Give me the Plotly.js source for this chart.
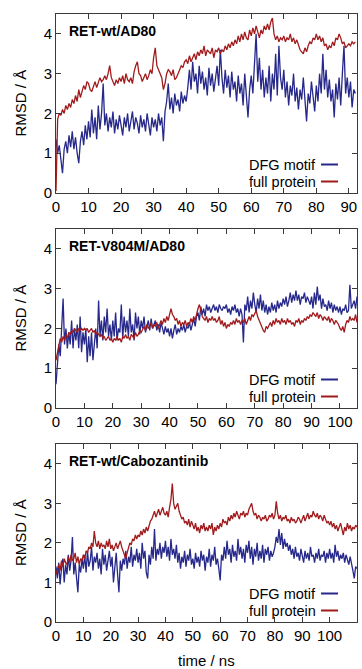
<!DOCTYPE html>
<html>
<head>
<meta charset="utf-8">
<script src="https://cdn.plot.ly/plotly-3.0.1.min.js"></script>
<style>
html,body{margin:0;padding:0;background:#fff;}
#chart{width:362px;height:669px;}
</style>
</head>
<body>
<div id="chart"></div>
<script>
// ---- data (RMSD in Å, sampled every 0.5 ns) ----
const TIME_STEP = 0.5;
const panelTitles = ["RET-wt/AD80", "RET-V804M/AD80", "RET-wt/Cabozantinib"];
const seriesNames = ["DFG motif", "full protein"];
const xTickStep = 10;
const yTicks = [0, 1, 2, 3, 4];

const wtAD80_DFG = [
1.35,1.0,1.2,0.9,0.5,1.1,1.3,1.0,1.45,1.15,
1.55,1.1,1.4,1.0,0.75,1.3,1.55,1.2,1.7,1.35,
1.8,1.4,2.1,1.5,1.9,1.35,2.2,1.6,2.0,2.75,
1.7,2.0,1.55,1.9,1.65,2.05,1.5,1.85,1.6,1.95,
1.7,1.45,1.9,1.65,2.0,1.55,1.8,2.05,1.6,1.9,
1.75,1.5,1.95,1.65,1.85,1.55,2.0,1.7,1.45,1.9,
1.65,1.85,1.55,2.0,1.7,1.9,1.3,2.05,2.3,2.75,
2.1,2.4,2.0,2.5,2.2,2.35,2.05,2.55,2.25,2.45,
2.3,2.65,3.1,2.6,3.3,2.8,3.0,2.5,3.2,2.75,
3.05,2.6,2.9,2.45,3.15,2.7,3.0,2.55,2.85,3.2,
2.7,3.6,2.9,2.5,3.1,2.65,2.95,2.4,3.05,2.6,
2.8,2.3,2.95,2.5,2.75,2.2,3.0,2.4,1.9,2.6,
2.95,2.5,3.3,4.0,2.8,3.4,2.6,3.1,2.4,2.9,
2.5,3.2,2.3,3.0,2.6,3.5,2.45,3.7,2.9,2.6,
3.1,2.4,2.8,2.2,2.7,2.45,3.0,2.3,2.65,2.1,
2.6,2.35,2.9,2.2,1.8,2.5,2.25,2.8,2.4,2.05,
2.7,2.3,3.0,2.5,3.5,2.6,3.1,2.4,2.85,2.3,
2.6,1.9,2.75,2.35,2.9,2.2,3.0,3.7,2.5,2.9,
2.4,2.8,2.15,2.6,2.5
];
const wtAD80_full = [
0.05,1.85,2.0,1.95,2.1,2.0,2.2,2.1,2.25,2.15,
2.35,2.25,2.45,2.3,2.6,2.4,2.55,2.7,2.6,2.8,
2.75,2.6,2.55,2.7,2.8,2.65,2.75,2.9,2.8,2.85,
2.95,2.85,3.0,3.2,2.9,2.8,2.7,2.85,2.75,2.9,
2.8,2.95,2.75,3.0,2.85,2.8,2.9,2.75,3.05,3.2,
3.3,3.0,2.95,2.8,2.9,3.0,2.85,2.95,3.1,3.0,
3.4,3.65,3.2,3.1,3.0,2.9,2.6,2.75,3.0,3.1,
3.05,2.95,3.1,2.85,2.9,3.0,3.1,3.2,3.15,3.3,
3.35,3.25,3.45,3.3,3.4,3.5,3.35,3.55,3.45,3.6,
3.5,3.7,3.45,3.6,3.55,3.5,3.65,3.4,3.6,3.55,
3.65,3.5,3.6,3.55,3.7,3.6,3.75,3.65,3.8,3.7,
3.85,3.75,3.95,3.8,4.0,3.85,4.05,3.9,3.85,4.1,
3.95,4.15,4.0,4.2,4.05,3.9,4.1,4.0,4.2,4.1,
4.25,4.1,4.3,4.4,4.0,3.85,3.95,3.8,3.9,3.85,
3.95,3.8,3.9,3.85,4.0,3.8,3.9,3.75,3.85,3.7,
3.6,3.55,3.5,3.65,3.55,3.7,3.8,3.75,3.9,3.85,
4.0,3.85,3.95,3.8,3.9,3.7,3.75,3.6,3.7,3.65,
3.8,3.7,3.9,3.85,4.0,3.9,3.75,3.8,3.65,3.7,
3.75,3.7,3.8,3.75,3.8
];
const v804m_DFG = [
0.6,1.2,1.6,1.3,2.1,2.75,1.6,2.0,1.5,1.9,
1.6,2.2,1.5,2.0,1.7,2.1,1.5,2.3,1.4,1.9,
1.6,2.0,1.15,1.8,1.3,1.9,1.2,1.7,2.0,1.5,
2.7,1.8,2.2,1.7,2.3,1.9,2.5,1.8,2.1,1.7,
2.2,1.8,2.4,1.7,2.0,1.9,2.6,1.75,2.3,1.9,
2.2,1.8,2.5,1.9,2.1,1.7,2.4,2.0,2.3,1.85,
2.2,2.0,2.3,1.9,2.1,2.2,1.95,2.25,2.0,2.1,
2.2,1.95,2.1,1.9,2.15,2.0,1.85,2.05,1.9,2.0,
1.8,2.0,1.75,1.95,2.1,1.85,2.0,1.9,2.05,1.95,
2.1,1.9,2.05,2.0,2.15,1.95,2.1,2.25,2.05,2.3,
2.4,2.2,2.55,2.35,2.5,2.3,2.6,2.45,2.55,2.4,
2.5,2.6,2.45,2.55,2.4,2.6,2.5,2.45,2.55,2.5,
2.6,2.4,2.5,2.35,2.55,2.45,2.6,2.4,2.5,2.3,
2.5,2.35,1.65,2.6,2.45,2.8,2.4,2.7,2.5,2.9,
2.6,2.4,2.75,2.5,2.85,2.45,2.7,2.4,2.6,2.35,
2.55,2.4,2.65,2.45,2.6,2.4,2.7,2.5,2.65,2.55,
2.75,2.6,2.8,2.55,2.7,2.9,2.65,2.85,2.7,2.95,
2.7,2.85,2.6,2.8,2.75,2.9,2.65,2.8,2.7,2.6,
2.8,2.5,2.9,2.6,3.05,2.7,2.85,2.5,2.75,2.55,
2.6,2.45,2.7,2.5,2.65,2.4,2.6,2.45,2.55,2.4,
2.55,2.35,2.5,2.45,2.6,2.4,2.45,3.1,2.5,2.6,
2.7,2.5,2.8,2.6,2.75,2.65,2.8
];
const v804m_full = [
1.2,1.4,1.6,1.75,1.65,1.8,1.7,1.85,1.75,1.9,
1.85,1.95,1.9,2.0,1.95,1.9,2.0,1.95,2.0,1.95,
2.0,1.95,2.0,1.9,1.95,2.0,1.9,1.95,1.85,1.9,
1.85,1.8,1.85,1.75,1.8,1.7,1.75,1.8,1.7,1.75,
1.65,1.75,1.7,1.8,1.7,1.75,1.65,1.8,1.75,1.85,
1.75,1.8,1.7,1.85,1.8,1.75,1.9,1.8,1.85,1.95,
1.9,2.0,2.05,1.95,2.1,2.0,2.05,2.15,2.0,2.1,
2.05,2.15,2.0,2.1,2.2,2.1,2.25,2.15,2.3,2.2,
2.4,2.5,2.35,2.3,2.2,2.25,2.1,2.2,2.05,2.15,
2.1,2.2,2.05,2.15,2.1,2.25,2.15,2.3,2.2,2.4,
2.5,2.6,2.4,2.3,2.25,2.2,2.3,2.15,2.25,2.2,
2.3,2.2,2.25,2.15,2.2,2.3,2.1,2.2,2.05,2.15,
2.0,2.1,2.05,2.15,2.1,2.2,2.1,2.25,2.15,2.2,
2.1,2.2,2.15,2.25,2.1,2.2,2.3,2.2,2.35,2.3,
2.4,2.45,2.3,2.2,2.1,2.0,1.95,1.9,2.05,2.0,
2.1,2.15,2.05,2.2,2.1,2.25,2.15,2.2,2.1,2.25,
2.15,2.2,2.1,2.25,2.15,2.2,2.1,2.15,2.05,2.2,
2.15,2.25,2.1,2.2,2.15,2.25,2.2,2.3,2.25,2.35,
2.3,2.4,2.35,2.3,2.4,2.25,2.35,2.3,2.2,2.3,
2.25,2.2,2.3,2.15,2.25,2.2,2.1,2.2,2.15,2.1,
2.0,1.95,2.05,1.9,2.1,2.2,2.15,2.3,2.2,2.25,
2.2,2.35,2.15,2.3,2.2,2.25,2.2
];
const cabo_DFG = [
1.4,1.1,1.5,0.95,1.35,1.6,1.0,1.45,1.2,1.7,
1.3,1.55,2.15,1.2,1.5,1.0,0.75,1.45,1.25,1.6,
1.35,1.7,1.25,1.8,1.4,1.55,1.9,1.3,1.65,1.5,
1.75,1.35,1.6,1.2,1.85,1.45,1.7,1.3,1.55,1.8,
1.4,1.65,1.0,1.5,1.75,1.2,0.75,1.55,1.3,1.6,
1.45,1.8,1.35,1.65,1.5,1.9,1.4,1.7,1.55,1.85,
1.5,1.75,1.35,2.0,1.6,1.8,1.25,1.1,1.7,1.45,
1.9,1.6,2.35,1.55,1.85,1.7,2.0,1.6,1.9,1.75,
2.05,1.65,1.9,1.55,2.1,1.7,1.85,1.6,1.95,1.5,
1.75,1.35,1.65,1.5,1.8,1.4,1.7,1.55,1.85,1.45,
1.6,1.35,1.75,1.5,1.65,1.4,1.8,1.55,1.7,1.3,
1.65,1.5,1.85,1.4,1.7,1.55,1.9,1.45,1.6,1.35,
1.05,1.7,1.55,1.9,1.6,2.05,1.7,1.85,1.5,1.95,
1.65,1.8,1.55,2.1,1.7,1.9,1.6,1.85,1.5,1.95,
1.75,2.05,1.6,1.9,1.45,1.85,1.65,2.0,1.55,1.8,
1.6,1.95,1.5,1.85,1.7,1.9,1.55,1.8,1.65,1.75,
1.9,2.15,2.0,2.35,1.95,2.25,1.85,2.1,1.9,2.0,
1.8,1.95,1.7,1.85,1.6,1.9,1.65,1.75,1.55,1.85,
1.7,1.5,1.8,1.6,1.75,1.55,1.9,1.65,1.7,1.5,
1.75,1.6,1.85,1.55,1.7,1.65,1.8,1.5,1.75,1.6,
1.85,1.6,1.75,1.5,1.95,1.65,1.8,1.55,1.7,1.6,
1.75,1.5,1.7,1.6,1.45,1.65,1.5,1.3,1.1,1.4,
1.35
];
const cabo_full = [
1.2,1.35,1.45,1.3,1.55,1.4,1.6,1.5,1.45,1.65,
1.5,1.7,1.55,1.6,1.75,1.5,1.65,1.45,1.6,1.55,
1.7,1.6,1.8,1.75,1.9,1.85,2.0,1.9,2.3,2.0,
1.9,2.05,1.85,2.0,1.9,1.95,1.85,2.05,1.9,2.1,
1.85,1.95,1.8,1.9,2.0,1.85,1.95,2.05,1.9,1.8,
1.7,1.6,1.75,1.85,2.0,1.95,2.1,2.05,2.2,2.1,
2.2,2.15,2.3,2.2,2.35,2.25,2.4,2.3,2.45,2.55,
2.6,2.7,2.8,2.65,2.75,2.85,2.7,2.8,2.9,2.75,
2.7,2.8,2.65,2.9,3.1,3.5,3.0,2.85,2.95,3.0,
2.8,2.7,2.6,2.65,2.5,2.55,2.45,2.6,2.4,2.55,
2.45,2.35,2.5,2.3,2.4,2.25,2.45,2.35,2.5,2.3,
2.4,2.3,2.45,2.35,2.5,2.2,2.4,2.3,2.45,2.35,
2.5,2.4,2.6,2.5,2.55,2.45,2.65,2.55,2.7,2.6,
2.75,2.65,2.8,2.7,2.6,2.75,2.7,2.8,2.65,2.75,
2.7,2.85,2.95,3.0,2.8,2.7,2.75,2.6,2.7,2.65,
2.55,2.65,2.6,2.7,2.55,2.6,2.7,2.65,2.75,2.6,
2.7,3.05,2.75,2.6,2.7,2.55,2.65,2.6,2.7,2.55,
2.6,2.5,2.65,2.55,2.6,2.5,2.55,2.65,2.6,2.5,
2.6,2.7,2.55,2.65,2.75,2.6,2.7,2.65,2.8,2.7,
2.65,2.75,2.6,2.7,2.65,2.55,2.7,2.6,2.5,2.55,
2.45,2.55,2.4,2.5,2.35,2.45,2.3,2.4,2.5,2.35,
2.2,2.4,2.3,2.5,2.35,2.45,2.3,2.4,2.35,2.45,
2.4
];
const panelSeries = [
  [wtAD80_DFG, wtAD80_full],
  [v804m_DFG, v804m_full],
  [cabo_DFG, cabo_full]
];
const xRanges = [[0, 92.5], [0, 106], [0, 110]];

// ---- styling / layout ----
const W = 362, H = 669, ML = 56, MR = 5;
const PW = W - ML - MR;
const panelPix = [[14, 193], [229, 408], [444, 622]]; // top,bottom in px
const colors = ["#26288a", "#a11b1d"];
const FONT = "Liberation Sans, Arial, Helvetica, sans-serif";
const px2x = X => (X - ML) / PW;
const px2y = Y => 1 - Y / H;

const traces = [];
const annotations = [];
const shapes = [];
const layout = {
  width: W, height: H,
  margin: {l: ML, r: MR, t: 0, b: 0},
  paper_bgcolor: "#fff", plot_bgcolor: "#fff",
  showlegend: false,
  font: {family: FONT, size: 15, color: "#000"}
};

panelSeries.forEach((pair, p) => {
  const sfx = p === 0 ? "" : String(p + 1);
  pair.forEach((vals, s) => {
    traces.push({
      type: "scatter", mode: "lines",
      name: seriesNames[s],
      x: vals.map((_, i) => i * TIME_STEP),
      y: vals,
      xaxis: "x" + sfx, yaxis: "y" + sfx,
      line: {color: colors[s], width: 1.3},
      hoverinfo: "skip"
    });
  });
  const [top, bot] = panelPix[p];
  const axCommon = {
    showline: true, linecolor: "#3a3a3a", linewidth: 1,
    mirror: "ticks", ticks: "inside", ticklen: 5, tickwidth: 1, tickcolor: "#3a3a3a",
    showgrid: false, zeroline: false, fixedrange: true,
    tickfont: {family: FONT, size: 15, color: "#000"}
  };
  layout["xaxis" + sfx] = Object.assign({}, axCommon, {
    domain: [0, 1], anchor: "y" + sfx, range: xRanges[p],
    tickmode: "linear", tick0: 0, dtick: xTickStep
  });
  layout["yaxis" + sfx] = Object.assign({}, axCommon, {
    domain: [px2y(bot), px2y(top)], anchor: "x" + sfx, range: [0, 4.5],
    tickmode: "array", tickvals: yTicks, ticktext: yTicks.map(String)
  });
  // panel title
  annotations.push({
    xref: "paper", yref: "paper", x: px2x(67), y: px2y(top + 17),
    xanchor: "left", yanchor: "middle", showarrow: false,
    text: "<b>" + panelTitles[p] + "</b>",
    font: {family: FONT, size: 14, color: "#000"}
  });
  // y-axis title
  annotations.push({
    xref: "paper", yref: "paper", x: px2x(20), y: px2y((top + bot) / 2),
    xanchor: "center", yanchor: "middle", showarrow: false, textangle: -90,
    text: "RMSD / Å", font: {family: FONT, size: 15, color: "#000"}
  });
  // legend (text left of line sample)
  const legY = [bot - 28.5, bot - 11.5];
  seriesNames.forEach((nm, s) => {
    annotations.push({
      xref: "paper", yref: "paper", x: px2x(318), y: px2y(legY[s]),
      xanchor: "right", yanchor: "middle", showarrow: false,
      text: nm, font: {family: FONT, size: 14.5, color: "#000"}
    });
    shapes.push({
      type: "line", xref: "paper", yref: "paper",
      x0: px2x(321), x1: px2x(338), y0: px2y(legY[s]), y1: px2y(legY[s]),
      line: {color: colors[s], width: 2}
    });
  });
});

annotations.push({
  xref: "paper", yref: "paper", x: px2x(206), y: px2y(660),
  xanchor: "center", yanchor: "middle", showarrow: false,
  text: "time / ns", font: {family: FONT, size: 15, color: "#000"}
});

layout.annotations = annotations;
layout.shapes = shapes;

Plotly.newPlot("chart", traces, layout, {staticPlot: true, displayModeBar: false});
</script>
</body>
</html>
